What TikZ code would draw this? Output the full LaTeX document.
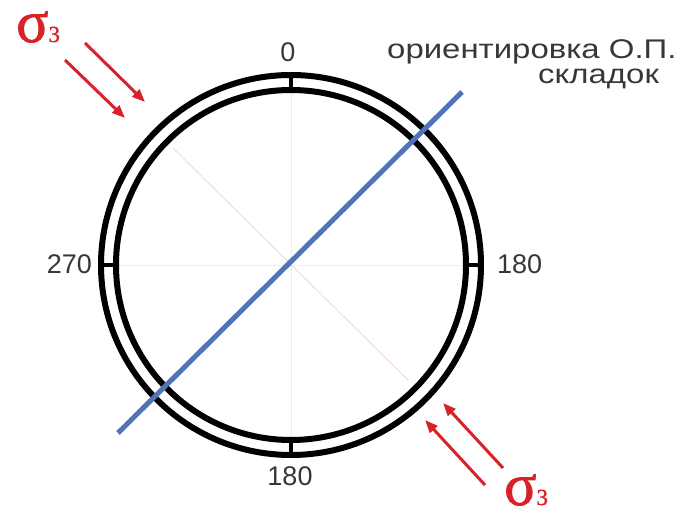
\documentclass[tikz,border=0pt]{standalone}
\usepackage{fontspec}
\setmainfont{Liberation Sans}
\newfontfamily\greekfont[FakeBold=1.2]{Liberation Serif}
\usepackage{graphicx}
\usetikzlibrary{arrows.meta,positioning}
\definecolor{sigmared}{RGB}{215,35,40}
\definecolor{planeblue}{RGB}{80,115,185}
\definecolor{labelgray}{RGB}{55,55,55}
\definecolor{faintpeach}{RGB}{242,215,200}

\begin{document}
\begin{tikzpicture}[x=1pt,y=-1pt,
		ring/.style={line width=6pt,black},
		tickmark/.style={line width=4pt,black},
		guide/.style={line width=0.8pt,black!7},
		stress/.style={-{Triangle[length=13pt,width=10pt]},line width=3pt,sigmared},
		degree/.style={font=\fontsize{27}{27}\selectfont,text=labelgray,inner sep=0pt},
		sigmalabel/.style={font=\greekfont,text=sigmared,inner sep=0pt,
			text height=28pt,text depth=1pt}]
		
		\useasboundingbox (0,0) rectangle (683,516);
		
		\coordinate (O) at (291,265);
		\coordinate (P1) at (118,433);
		\coordinate (P2) at (462,92);
		\coordinate (Q1) at (173,148);
		\coordinate (Q2) at (408,380);
		
		% faint guide lines
		\draw[guide] (116,265) -- (466,265);
		\draw[guide] (291,90) -- (291,440);
		\draw[line width=0.8pt,faintpeach] (Q1) -- (Q2);
		
		% double ring with ticks
		\draw[ring] (O) circle[radius=190pt];
		\draw[ring] (O) circle[radius=175pt];
		\foreach \a in {0,90,180,270}
			\draw[tickmark] (O) ++(\a:175pt) -- ++(\a:15pt);
		
		% plane of the folds
		\draw[planeblue,line width=5pt] (P1) -- (P2);
		
		% compression arrows
		\coordinate (A1) at (65,60);
		\coordinate (A2) at (125,118);
		\coordinate (B1) at (85,43);
		\coordinate (B2) at (145,102);
		\coordinate (C1) at (485,485);
		\coordinate (C2) at (425,420);
		\coordinate (D1) at (503,468);
		\coordinate (D2) at (443,403);
		\draw[stress] (A1) -- (A2);
		\draw[stress] (B1) -- (B2);
		\draw[stress] (C1) -- (C2);
		\draw[stress] (D1) -- (D2);
		
		\node[sigmalabel,anchor=base west] (s1) at (16,42)
		{\fontsize{60}{60}\selectfont σ\fontsize{23}{23}\selectfont 3};
		\node[sigmalabel,anchor=base west] (s2) at (504,505)
		{\fontsize{60}{60}\selectfont σ\fontsize{23}{23}\selectfont 3};
		
		% azimuth labels
		\node[degree,anchor=base] (n0) at (288,62) {0};
		\node[degree,anchor=base east] (n270) at (92,273) {270};
		\node[degree,anchor=base west] (n180r) at (497,273) {180};
		\node[degree,anchor=base] (n180b) at (290,485) {180};
		
		\node[degree,anchor=base west] (t1) at (387,59)
		{\scalebox{1.22}[1]{ориентировка О.П.}};
		\node[degree,anchor=base west] (t2) at (538,84)
		{\scalebox{1.22}[1]{складок}};
		
	\end{tikzpicture}
\end{document}
